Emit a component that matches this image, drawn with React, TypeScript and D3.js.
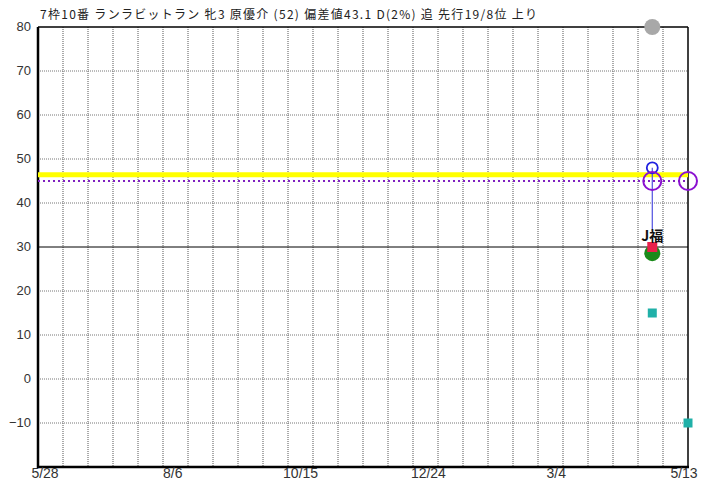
import React from "react";
import * as d3 from "d3";

const titleText = "7枠10番 ランラビットラン 牝3 原優介 (52) 偏差値43.1 D(2%) 追 先行19/8位 上り";
const domainStart = "2022-05-28";
const domainEnd = "2023-05-27";
const xTickDates = ["2022-05-28", "2022-08-06", "2022-10-15", "2022-12-24", "2023-03-04", "2023-05-13"];
const xTickLabels = ["5/28", "8/6", "10/15", "12/24", "3/4", "5/13"];
const yTicks = [80, 70, 60, 50, 40, 30, 20, 10, 0, -10];
const solidLevels = [30];

const raceDate = "2023-05-07";
const edgeDate = "2023-05-27";
const greyValue = 80;
const yellowLevel = 46.4;
const purpleLevel = 45;
const purpleCircleDates = [raceDate, edgeDate];
const blueValue = 48;
const redValue = 30;
const greenValue = 28.6;
const markLabel = "J福";
const tealPoints = [
  { date: raceDate, value: 15 },
  { date: edgeDate, value: -10 },
];

const W = 702;
const H = 482;
const L = 38, R = 688, T = 27, B = 467;

export default function App() {
  const p = d3.timeParse("%Y-%m-%d");
  const x = d3.scaleTime().domain([p(domainStart)!, p(domainEnd)!]).range([L, R]);
  const y = d3.scaleLinear().domain([-20, 80]).range([B, T]);
  const labelX = d3.scaleTime().domain([p(xTickDates[0])!, p(xTickDates[xTickDates.length - 1])!]).range([45, 684]);
  const gridDays = d3.range(1, 26).map((i) => d3.timeDay.offset(p(domainStart)!, i * 14));
  const rx = x(p(raceDate)!);
  const numFont = "'Liberation Sans', Arial, sans-serif";
  const jpFont = "'Noto Sans CJK JP', sans-serif";
  return (
    <svg width={W} height={H} style={{ position: "absolute", left: 0, top: 0, background: "#fff" }}>
      <rect x={0} y={0} width={W} height={H} fill="#fff" />
      {/* vertical grid */}
      {gridDays.map((d, i) => (
        <line key={"vg" + i} x1={x(d)} x2={x(d)} y1={T} y2={B} stroke="#555" strokeWidth={1} strokeDasharray="1,1" />
      ))}
      {/* horizontal grid */}
      {yTicks.filter((v) => v !== 80).map((v) => (
        solidLevels.includes(v) ? (
          <line key={"hg" + v} x1={L} x2={R} y1={y(v)} y2={y(v)} stroke="#000" strokeWidth={1} />
        ) : (
          <line key={"hg" + v} x1={L} x2={R} y1={y(v)} y2={y(v)} stroke="#777" strokeWidth={1} strokeDasharray="1,1" />
        )
      ))}
      {/* frame */}
      <line x1={L} x2={R} y1={T} y2={T} stroke="#000" strokeWidth={1.5} />
      <line x1={R} x2={R} y1={T} y2={B} stroke="#000" strokeWidth={1.5} />
      <line x1={L} x2={L} y1={T} y2={B + 1} stroke="#000" strokeWidth={2.5} />
      <line x1={L} x2={R + 1} y1={B} y2={B} stroke="#000" strokeWidth={2.5} />
      {/* y labels */}
      {yTicks.map((v) => (
        <text key={"yl" + v} x={31} y={y(v) + 1} textAnchor="end" dominantBaseline="middle" fontFamily={numFont} fontSize={13} fill="#333">
          {v < 0 ? "\u2212" + Math.abs(v) : String(v)}
        </text>
      ))}
      {/* x labels */}
      {xTickDates.map((d, i) => (
        <text key={"xl" + i} x={labelX(p(d)!)} y={478} textAnchor="middle" fontFamily={numFont} fontSize={14} fill="#333">
          {xTickLabels[i]}
        </text>
      ))}
      {/* title */}
      <text x={40} y={19} fontFamily={jpFont} fontSize={12} fill="#222" textLength={497} lengthAdjust="spacing">{titleText}</text>
      {/* yellow line */}
      <line x1={L} x2={R} y1={y(yellowLevel)} y2={y(yellowLevel)} stroke="#ffff00" strokeWidth={5} />
      {/* purple dotted line */}
      <line x1={L} x2={R} y1={y(purpleLevel)} y2={y(purpleLevel)} stroke="#8020c0" strokeWidth={2} strokeDasharray="2,3" />
      {/* blue connector */}
      <line x1={rx} x2={rx} y1={y(blueValue)} y2={y(redValue) - 16} stroke="#5050e0" strokeWidth={1.2} />
      {/* grey point */}
      <circle cx={rx} cy={y(greyValue)} r={8} fill="#a8a8a8" />
      {/* blue circle */}
      <circle cx={rx} cy={y(blueValue)} r={5.5} fill="none" stroke="#2020e0" strokeWidth={1.8} />
      {/* purple circles */}
      {purpleCircleDates.map((d, i) => (
        <circle key={"pc" + i} cx={x(p(d)!)} cy={y(purpleLevel)} r={9} fill="none" stroke="#8a10d0" strokeWidth={2} />
      ))}
      {/* green circle */}
      <circle cx={rx} cy={y(greenValue)} r={8} fill="#1a8a1a" />
      {/* red square */}
      <rect x={rx - 5} y={y(redValue) - 5} width={10} height={10} fill="#e8204a" />
      {/* label */}
      <text x={rx} y={y(redValue) - 6} textAnchor="middle" fontFamily={jpFont} fontWeight="bold" fontSize={14} fill="#111">{markLabel}</text>
      {/* teal squares */}
      {tealPoints.map((t, i) => (
        <rect key={"ts" + i} x={x(p(t.date)!) - 4.5} y={y(t.value) - 4.5} width={9} height={9} fill="#20b0a8" />
      ))}
    </svg>
  );
}
